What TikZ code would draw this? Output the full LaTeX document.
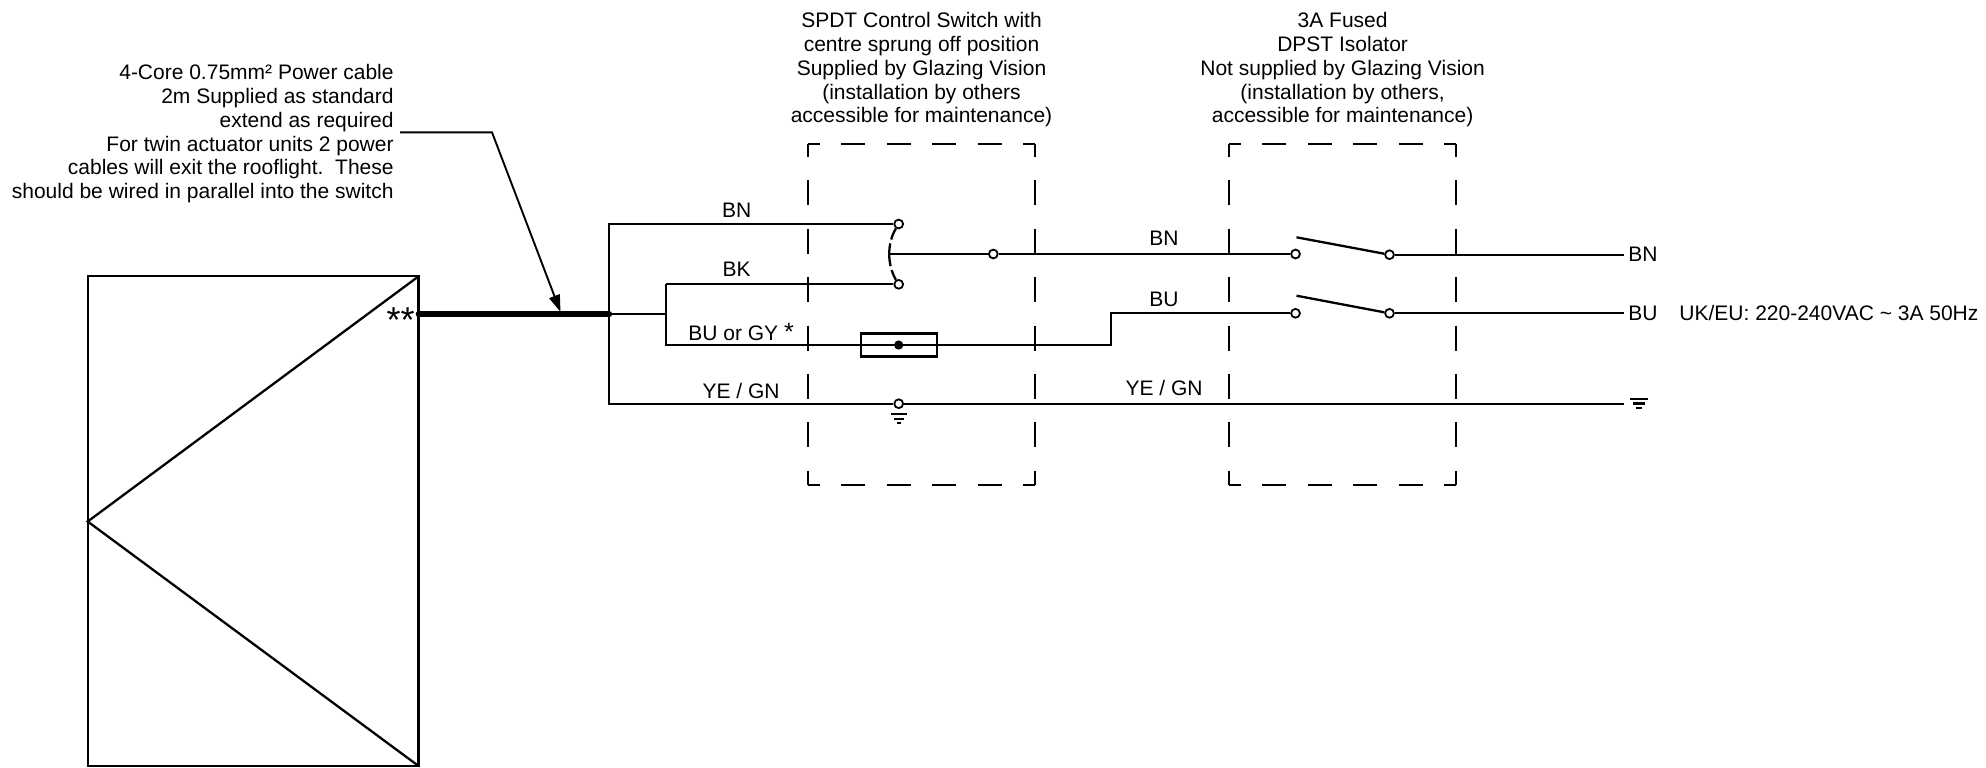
\documentclass[tikz,border=0pt]{standalone}
\usepackage{fontspec}
\setmainfont{Liberation Sans}
\usetikzlibrary{arrows.meta}

\tikzset{
  wire/.style={line width=1.15pt},
  term/.style={circle,draw,fill=white,line width=0.9pt,inner sep=0pt,minimum size=4.4pt},
  lbl/.style={anchor=base,inner sep=0pt,font=\fontsize{10.5}{11.9}\selectfont},
  note/.style={lbl,align=center},
  encl/.style={line width=1.05pt},
  endash/.style={dash pattern=on 12pt off 10.7pt,dash phase=6pt},
  endashv/.style={dash pattern=on 12.5pt off 11.7pt,dash phase=6.2pt}
}

\begin{document}
\begin{tikzpicture}[x=0.5pt,y=-0.5pt]
\useasboundingbox (0,0) rectangle (1986,767);

% actuator unit
\coordinate (TL) at (87.7,276.3);
\coordinate (TR) at (418.6,276.3);
\coordinate (BR) at (418.6,766);
\coordinate (BL) at (87.7,766);
\coordinate (M) at (87.7,521.5);
\draw[wire] (TL)--(TR)--(BR)--(BL)--cycle;
\draw[wire] (TR)--(M)--(BR);
\node[lbl,anchor=base east,font=\fontsize{18}{18}\selectfont] (stars) at (415,332) {**};

% cable
\coordinate (C0) at (418.6,314.3);
\coordinate (C1) at (609.3,314.3);
\coordinate (C2) at (666,314.3);
\draw[line width=2.9pt,line cap=round] (C0)--(C1);
\draw[wire] (C1)--(C2);

% cable note and leader
\node[lbl,anchor=north east,align=right] (cablenote) at (394,64) {4-Core 0.75mm² Power cable\\2m Supplied as standard\\extend as required\\For twin actuator units 2 power\\cables will exit the rooflight.\ \ These\\should be wired in parallel into the switch};
\coordinate (L0) at (400,132.3);
\coordinate (L1) at (492,132.3);
\coordinate (L2) at (560.5,312);
\draw[line width=0.95pt,-{Triangle[length=8.5pt,width=5.5pt]}] (L0)--(L1)--(L2);

% enclosures
\foreach \xa/\xb in {808/1034.7,1229/1456}{
  \draw[encl,endash] (\xa,144.3)--(\xb,144.3);
  \draw[encl,endash] (\xa,485)--(\xb,485);
  \draw[encl,endashv] (\xa,144.3)--(\xa,485);
  \draw[encl,endashv] (\xb,144.3)--(\xb,485);
}

% wires from the cable
\node[term] (swbn) at (898.7,224) {};
\node[term] (swbk) at (898.7,284.3) {};
\node[term] (swout) at (993.3,254) {};
\node[term] (swpe) at (898.7,403.7) {};
\node[term] (isoAin) at (1295.5,254) {};
\node[term] (isoAout) at (1389.5,254.7) {};
\node[term] (isoBin) at (1295.5,313.3) {};
\node[term] (isoBout) at (1389.5,313.3) {};
\coordinate (J1) at (609.3,224);
\coordinate (J2) at (609.3,403.7);
\coordinate (J3) at (666,284.3);
\coordinate (J4) at (666,345);
\coordinate (E1) at (1111,345);
\coordinate (E2) at (1111,313.3);
\coordinate (P) at (890,254);
\coordinate (RBN) at (1624,254.7);
\coordinate (RBU) at (1624,313.3);
\coordinate (RPE) at (1624,403.7);
\draw[wire] (swbn)--(J1)--(J2)--(swpe)--(RPE);
\draw[wire] (J3)--(swbk);
\draw[wire] (J3)--(J4)--(E1)--(E2)--(isoBin);
\draw[wire] (P)--(swout)--(isoAin);
\draw[wire] (isoAout)--(RBN);
\draw[wire] (isoBout)--(RBU);

% switch arms
\draw[wire,dash pattern=on 6pt off 2pt on 11.5pt off 2pt on 6pt off 2pt] (swbn) .. controls (887,243) and (887,265) .. (swbk);
\coordinate (A1) at (1296.5,237.3);
\coordinate (A2) at (1296.5,295.7);
\draw[wire] (A1)--(isoAout);
\draw[wire] (A2)--(isoBout);

% fuse
\node[draw,line width=1.1pt,minimum width=38pt,minimum height=11.5pt,inner sep=0pt] (fuse) at (898.7,345) {};
\node[circle,fill=black,inner sep=0pt,minimum size=4.6pt] (fusedot) at (fuse.center) {};

% earth
\draw[wire] (890.7,414.3)--(907.3,414.3) (894,418.7)--(904,418.7) (897,423)--(901,423);
\draw[wire] (1630,399.3)--(1647.5,399.3) (1633,403.5)--(1645,403.5) (1636,407.7)--(1642,407.7);

% wire labels
\node[lbl] (lbn) at (736.7,217) {BN};
\node[lbl] (lbk) at (736.7,276.7) {BK};
\node[lbl,anchor=base west] (lbu) at (688,340) {BU or GY {\fontsize{12.5}{12}\selectfont*}};
\node[lbl] (lpe) at (741,398) {YE / GN};
\node[lbl] (rbn) at (1164,245) {BN};
\node[lbl] (rbu) at (1164,306) {BU};
\node[lbl] (rpe) at (1164,395) {YE / GN};
\node[lbl,anchor=base west] (obn) at (1628,261) {BN};
\node[lbl,anchor=base west] (obu) at (1628,320) {BU};
\node[lbl,anchor=base west] (supply) at (1679,320) {UK/EU: 220-240VAC \textasciitilde{} 3A 50Hz};

% switch titles
\node[note,anchor=north] (sptitle) at (921.5,12) {SPDT Control Switch with\\centre sprung off position\\Supplied by Glazing Vision\\(installation by others\\accessible for maintenance)};
\node[note,anchor=north] (isotitle) at (1342.6,12) {3A Fused\\DPST Isolator\\Not supplied by Glazing Vision\\(installation by others,\\accessible for maintenance)};
\end{tikzpicture}
\end{document}
